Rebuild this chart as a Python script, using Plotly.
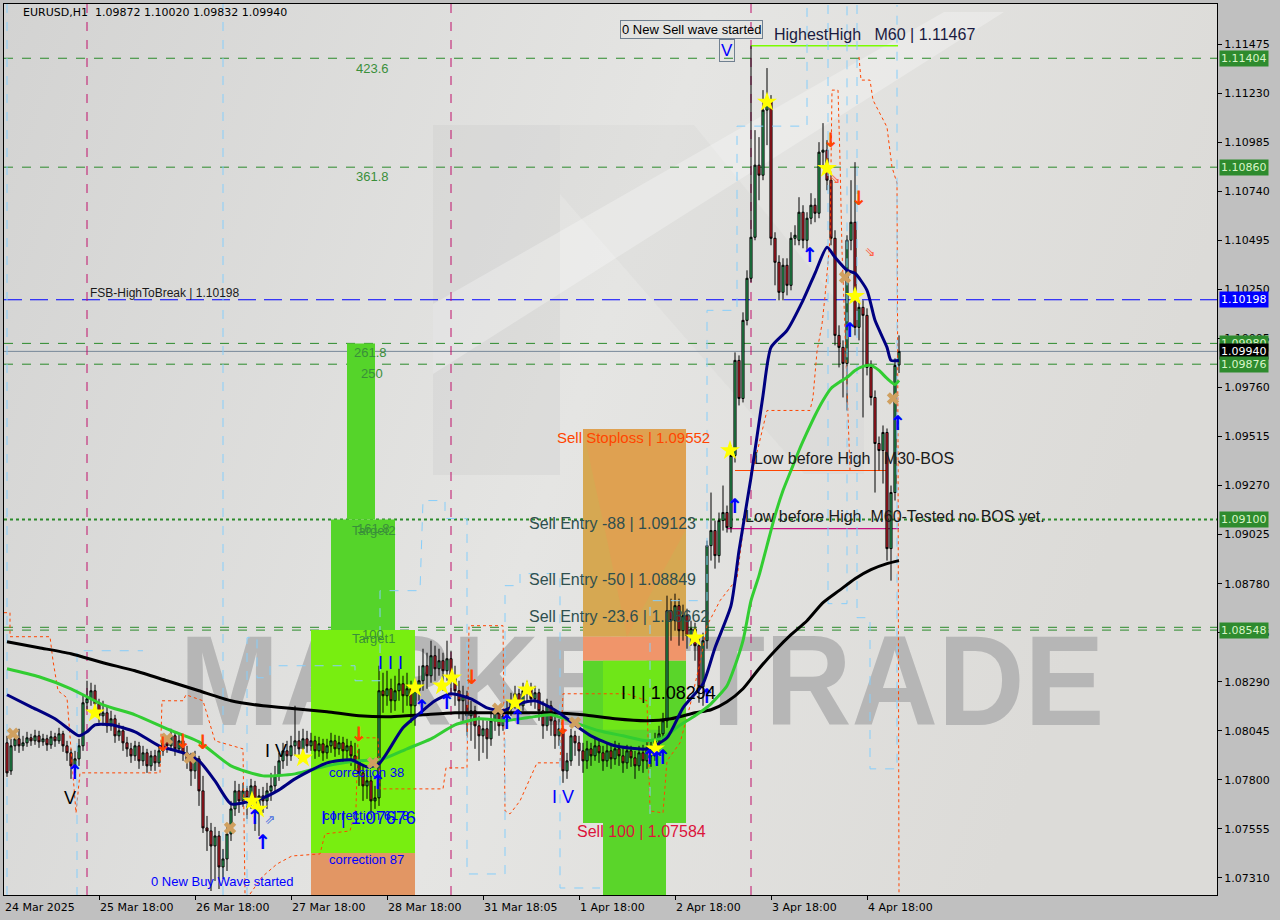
import base64
import plotly.graph_objects as go

# ---------------- DATA ----------------
opens = [1.07985,1.07845,1.07970,1.08005,1.07970,1.07985,1.08010,1.07995,1.08020,1.07990,
1.08005,1.07975,1.08015,1.07995,1.08030,1.07970,1.07935,1.07870,1.07905,1.07970,
1.08185,1.08205,1.08245,1.08180,1.08120,1.08135,1.08070,1.08105,1.08020,1.08045,
1.07985,1.07955,1.07920,1.07970,1.07895,1.07935,1.07870,1.07920,1.07885,1.07945,
1.07995,1.07970,1.08020,1.07955,1.07995,1.07935,1.07895,1.07845,1.07905,1.07745,
1.07560,1.07545,1.07470,1.07520,1.07365,1.07405,1.07530,1.07655,1.07745,1.07695,
1.07745,1.07710,1.07770,1.07670,1.07720,1.07695,1.07745,1.07770,1.07820,1.07895,
1.07945,1.07920,1.07970,1.07995,1.07955,1.08005,1.07970,1.07995,1.07945,1.07980,
1.07935,1.07970,1.07995,1.07955,1.07985,1.07945,1.07970,1.07920,1.07895,1.07835,
1.07770,1.07795,1.07695,1.07710,1.08245,1.08220,1.08255,1.08195,1.08245,1.08280,
1.08220,1.08255,1.08170,1.08245,1.08295,1.08370,1.08320,1.08420,1.08355,1.08395,
1.08345,1.08405,1.08320,1.08245,1.08195,1.08220,1.08120,1.08145,1.08070,1.08020,
1.08055,1.08005,1.08095,1.08135,1.08070,1.08120,1.08155,1.08195,1.08230,1.08170,
1.08245,1.08255,1.08205,1.08235,1.08145,1.08070,1.08170,1.08095,1.08020,1.08055,
1.07845,1.07895,1.08020,1.07985,1.07945,1.07895,1.07955,1.07920,1.07970,1.07935,
1.07895,1.07945,1.07905,1.07955,1.07920,1.07885,1.07945,1.07910,1.07870,1.07935,
1.07895,1.07955,1.07920,1.07995,1.08030,1.08095,1.08645,1.08595,1.08670,1.08545,
1.08620,1.08520,1.08555,1.08470,1.08265,1.08495,1.08970,1.09045,1.08920,1.09095,
1.09135,1.09060,1.09420,1.09895,1.09705,1.10095,1.10305,1.10510,1.10870,1.10820,
1.11145,1.11195,1.10505,1.10385,1.10235,1.10370,1.10270,1.10505,1.10495,1.10635,
1.10495,1.10605,1.10670,1.10630,1.10935,1.10945,1.10795,1.10505,1.10020,1.09960,
1.09880,1.10495,1.10585,1.10060,1.10160,1.10120,1.09860,1.09710,1.09480,1.09445,
1.09535,1.08955,1.09235,1.09872]
highs = [1.08020,1.08005,1.08045,1.08055,1.08020,1.08040,1.08030,1.08050,1.08045,1.08030,
1.08025,1.08045,1.08035,1.08060,1.08045,1.07995,1.07955,1.07945,1.08005,1.08220,
1.08295,1.08285,1.08275,1.08205,1.08195,1.08165,1.08145,1.08125,1.08085,1.08070,
1.08015,1.07985,1.07995,1.07990,1.07970,1.07955,1.07945,1.07950,1.07975,1.08030,
1.08020,1.08055,1.08035,1.08025,1.08015,1.07970,1.07935,1.07945,1.07920,1.07820,
1.07620,1.07585,1.07565,1.07545,1.07455,1.07565,1.07695,1.07795,1.07780,1.07785,
1.07770,1.07805,1.07795,1.07755,1.07765,1.07785,1.07835,1.07870,1.07935,1.07985,
1.07995,1.08020,1.08170,1.08045,1.08055,1.08045,1.08035,1.08020,1.08015,1.08005,
1.08005,1.08035,1.08025,1.08020,1.08015,1.08005,1.07995,1.07985,1.07955,1.07870,
1.07845,1.07820,1.07770,1.08370,1.08335,1.08345,1.08305,1.08320,1.08355,1.08320,
1.08335,1.08295,1.08285,1.08370,1.08455,1.08435,1.08495,1.08470,1.08455,1.08435,
1.08495,1.08445,1.08370,1.08295,1.08270,1.08245,1.08195,1.08170,1.08120,1.08105,
1.08095,1.08135,1.08170,1.08165,1.08155,1.08195,1.08235,1.08270,1.08255,1.08285,
1.08295,1.08285,1.08270,1.08255,1.08195,1.08205,1.08195,1.08145,1.08105,1.08070,
1.07935,1.08055,1.08045,1.08020,1.07985,1.07995,1.07985,1.08005,1.07995,1.07970,
1.07985,1.07975,1.07995,1.07985,1.07965,1.07975,1.07970,1.07945,1.07970,1.07975,
1.07995,1.07995,1.08035,1.08070,1.08135,1.08720,1.08705,1.08730,1.08705,1.08675,
1.08655,1.08595,1.08585,1.08505,1.08535,1.08995,1.09235,1.09095,1.09135,1.09270,
1.09170,1.09470,1.09935,1.09920,1.10135,1.10345,1.11467,1.11045,1.11010,1.11245,
1.11355,1.11220,1.10535,1.10420,1.10405,1.10405,1.10535,1.10570,1.10710,1.10670,
1.10635,1.10730,1.10705,1.10985,1.11080,1.10995,1.10820,1.10545,1.10070,1.09995,
1.10520,1.10795,1.10885,1.10195,1.10195,1.10155,1.09895,1.09745,1.09515,1.09570,
1.09555,1.09270,1.09905,1.10020]
lows = [1.07815,1.07825,1.07945,1.07935,1.07945,1.07965,1.07970,1.07975,1.07960,1.07970,
1.07945,1.07955,1.07965,1.07980,1.07940,1.07895,1.07805,1.07835,1.07870,1.07945,
1.08145,1.08170,1.08145,1.08085,1.08070,1.08035,1.08045,1.07985,1.07995,1.07945,
1.07915,1.07885,1.07895,1.07855,1.07870,1.07835,1.07845,1.07845,1.07865,1.07920,
1.07935,1.07945,1.07920,1.07935,1.07895,1.07855,1.07770,1.07805,1.07670,1.07535,
1.07445,1.07245,1.07295,1.07255,1.07305,1.07345,1.07495,1.07620,1.07635,1.07665,
1.07605,1.07655,1.07545,1.07520,1.07635,1.07655,1.07695,1.07735,1.07795,1.07855,
1.07870,1.07895,1.07920,1.07905,1.07920,1.07935,1.07945,1.07905,1.07915,1.07895,
1.07905,1.07935,1.07915,1.07925,1.07885,1.07905,1.07870,1.07845,1.07770,1.07695,
1.07705,1.07635,1.07655,1.07670,1.08135,1.08170,1.08135,1.08145,1.08195,1.08135,
1.08170,1.08085,1.08070,1.08195,1.08245,1.08255,1.08285,1.08295,1.08320,1.08245,
1.08295,1.08235,1.08170,1.08105,1.08095,1.08020,1.07995,1.07955,1.07895,1.07935,
1.07905,1.07970,1.08045,1.08020,1.08045,1.08085,1.08120,1.08155,1.08135,1.08145,
1.08195,1.08170,1.08155,1.08095,1.08005,1.08045,1.08020,1.07955,1.07970,1.07785,
1.07805,1.07870,1.07920,1.07870,1.07835,1.07855,1.07870,1.07895,1.07885,1.07845,
1.07865,1.07855,1.07875,1.07870,1.07835,1.07855,1.07865,1.07805,1.07845,1.07835,
1.07855,1.07865,1.07895,1.07955,1.07995,1.08060,1.08495,1.08545,1.08470,1.08495,
1.08455,1.08470,1.08395,1.08185,1.08170,1.08455,1.08895,1.08855,1.08885,1.09045,
1.09035,1.09035,1.09385,1.09670,1.09685,1.10070,1.10285,1.10495,1.10695,1.10795,
1.10970,1.10470,1.10270,1.10195,1.10195,1.10220,1.10245,1.10470,1.10470,1.10455,
1.10445,1.10575,1.10585,1.10605,1.10870,1.10745,1.10470,1.09970,1.09860,1.09710,
1.09645,1.10445,1.10020,1.09995,1.09610,1.09820,1.09670,1.09235,1.09345,1.09280,
1.08895,1.08795,1.09195,1.09832]
closes = [1.07835,1.07970,1.08005,1.07970,1.07985,1.08010,1.07995,1.08020,1.07990,1.08005,
1.07975,1.08015,1.07995,1.08030,1.07970,1.07935,1.07870,1.07905,1.07970,1.08185,
1.08205,1.08245,1.08180,1.08120,1.08135,1.08070,1.08105,1.08020,1.08045,1.07985,
1.07955,1.07920,1.07970,1.07895,1.07935,1.07870,1.07920,1.07885,1.07945,1.07995,
1.07970,1.08020,1.07955,1.07995,1.07935,1.07895,1.07845,1.07905,1.07745,1.07560,
1.07545,1.07470,1.07520,1.07365,1.07405,1.07530,1.07655,1.07745,1.07695,1.07745,
1.07710,1.07770,1.07670,1.07720,1.07695,1.07745,1.07770,1.07820,1.07895,1.07945,
1.07920,1.07970,1.07995,1.07955,1.08005,1.07970,1.07995,1.07945,1.07980,1.07935,
1.07970,1.07995,1.07955,1.07985,1.07945,1.07970,1.07920,1.07895,1.07835,1.07770,
1.07795,1.07695,1.07710,1.08245,1.08220,1.08255,1.08195,1.08245,1.08280,1.08220,
1.08255,1.08170,1.08245,1.08295,1.08370,1.08320,1.08420,1.08355,1.08395,1.08345,
1.08405,1.08320,1.08245,1.08195,1.08220,1.08120,1.08145,1.08070,1.08020,1.08055,
1.08005,1.08095,1.08135,1.08070,1.08120,1.08155,1.08195,1.08230,1.08170,1.08245,
1.08255,1.08205,1.08235,1.08145,1.08070,1.08170,1.08095,1.08020,1.08055,1.07845,
1.07895,1.08020,1.07985,1.07945,1.07895,1.07955,1.07920,1.07970,1.07935,1.07895,
1.07945,1.07905,1.07955,1.07920,1.07885,1.07945,1.07910,1.07870,1.07935,1.07895,
1.07955,1.07920,1.07995,1.08030,1.08095,1.08645,1.08595,1.08670,1.08545,1.08620,
1.08520,1.08555,1.08470,1.08265,1.08495,1.08970,1.09045,1.08920,1.09095,1.09135,
1.09060,1.09420,1.09895,1.09705,1.10095,1.10305,1.10510,1.10870,1.10820,1.11145,
1.11195,1.10505,1.10385,1.10235,1.10370,1.10270,1.10505,1.10520,1.10635,1.10495,
1.10605,1.10670,1.10630,1.10935,1.10945,1.10795,1.10505,1.10020,1.09960,1.09880,
1.10495,1.10585,1.10060,1.10160,1.10120,1.09860,1.09710,1.09480,1.09445,1.09535,
1.08955,1.09235,1.09870,1.09940]
bar_index = list(range(len(closes)))

x_tick_bars = [23, 47, 71, 95, 119, 143, 167, 191, 215]
x_tick_text = ["25 Mar 18:00", "26 Mar 18:00", "27 Mar 18:00", "28 Mar 18:00", "31 Mar 18:05",
               "1 Apr 18:00", "2 Apr 18:00", "3 Apr 18:00", "4 Apr 18:00"]
first_date_label = "24 Mar 2025"
y_tick_vals = [1.07310, 1.07555, 1.07800, 1.08045, 1.08290, 1.08535, 1.08780, 1.09025, 1.09270,
               1.09515, 1.09760, 1.10005, 1.10250, 1.10495, 1.10740, 1.10985, 1.11230, 1.11475]

# moving averages
black_ma_bars = [0,8,16,24,32,40,48,56,64,72,80,88,96,104,112,120,128,136,144,152,160,166,172,176,180,184,188,192,196,200,204,208,212,216,220,223]
black_ma_vals = [1.08490,1.08460,1.08430,1.08385,1.08345,1.08295,1.08245,1.08195,1.08170,1.08155,1.08140,1.08120,1.08115,1.08125,1.08135,1.08135,1.08135,1.08135,1.08125,1.08105,1.08095,1.08105,1.08135,1.08150,1.08190,1.08255,1.08355,1.08445,1.08525,1.08595,1.08685,1.08745,1.08805,1.08850,1.08880,1.08895]
green_ma_bars = [0,8,16,24,32,40,48,56,64,72,80,88,94,100,106,112,118,124,130,136,142,148,154,160,164,168,172,176,180,182,184,186,188,190,192,194,196,198,200,202,204,206,208,210,212,214,216,218,220,222,223]
green_ma_vals = [1.08355,1.08315,1.08255,1.08175,1.08125,1.08055,1.07990,1.07870,1.07820,1.07830,1.07870,1.07895,1.07905,1.07955,1.08005,1.08075,1.08105,1.08095,1.08110,1.08125,1.08085,1.08045,1.08020,1.07995,1.08010,1.08070,1.08120,1.08180,1.08270,1.08370,1.08495,1.08695,1.08820,1.08970,1.09120,1.09245,1.09345,1.09445,1.09535,1.09620,1.09695,1.09755,1.09785,1.09810,1.09845,1.09865,1.09870,1.09845,1.09805,1.09775,1.09795]
navy_ma_bars = [0,6,12,16,18,20,22,26,32,38,44,48,52,56,60,64,68,72,80,86,90,93,95,99,103,107,111,116,120,124,128,132,136,138,143,146,152,160,165,169,174,177,181,183,186,189,191,195,199,202,205,207,210,212,215,217,220,221,223]
navy_ma_vals = [1.08225,1.08165,1.08105,1.08045,1.08020,1.08040,1.08075,1.08075,1.08040,1.07970,1.07935,1.07895,1.07795,1.07680,1.07690,1.07710,1.07750,1.07805,1.07885,1.07900,1.07865,1.07880,1.07935,1.08060,1.08130,1.08195,1.08230,1.08205,1.08160,1.08145,1.08180,1.08195,1.08160,1.08135,1.08060,1.08020,1.07970,1.07955,1.08010,1.08160,1.08280,1.08460,1.08670,1.08945,1.09310,1.09720,1.09960,1.10045,1.10195,1.10330,1.10460,1.10410,1.10345,1.10330,1.10245,1.10095,1.09960,1.09895,1.09895]

# orange dotted channel lines
orange1_bars = [-0.75,0.75,0.75,10.75,11.5,12.75,15,16.25,17.25,18.25,38.25,38.75,44,44.75,49,52,59,59.5]
orange1_vals = [1.08635,1.08635,1.08515,1.08515,1.08395,1.08245,1.08210,1.07895,1.07635,1.07835,1.07835,1.08195,1.08195,1.08225,1.08195,1.07995,1.07955,1.07230]
orange2_bars = [60.75,63.75,67.5,71.25,78.25,79.5,85.75,87.25,87.75,92.75,93.25,109,109.75,115,115.5,124,124.5,125.75,128.25,130.75,132.5,138.25,139,155,160,160.75,164,165,168.25,170.75,173.25,175,178.25,182.5,184,186.25,190,200.75,201.5,202.5,203.75,204.5,205.75,206.25,207.75,208.25,208.75,209.5,210.25,210.75]
orange2_vals = [1.07230,1.07315,1.07380,1.07420,1.07430,1.07530,1.07545,1.07660,1.08010,1.08010,1.07755,1.07755,1.07860,1.07860,1.08570,1.08570,1.07645,1.07630,1.07695,1.07810,1.07885,1.07885,1.08230,1.08230,1.08195,1.07645,1.07635,1.07895,1.07985,1.08170,1.08385,1.08570,1.08695,1.08805,1.09045,1.09330,1.09645,1.09645,1.09710,1.09940,1.10075,1.10215,1.10495,1.11245,1.11245,1.10895,1.10445,1.10045,1.09595,1.09345]
orange3_bars = [213,213.5,215.75,216.5,220,221.25,222.5,222.75,223]
orange3_vals = [1.11410,1.11295,1.11295,1.11195,1.11060,1.10860,1.10780,1.09495,1.07220]

# light blue dashed step lines
blue1_bars = [17.5,17.5,34]
blue1_vals = [1.0722,1.08445,1.08445]
blue2_bars = [60,60,62.5,62.5,65.75,65.75,87,87,93.25,93.25,103.25,104,108.25,109.5,109.5,115,115,124.5,124.5,128.25,128.25,138.25,138.25,148.25]
blue2_vals = [1.0722,1.08510,1.08510,1.08310,1.08310,1.08370,1.08370,1.08295,1.08295,1.08745,1.08745,1.09195,1.09195,1.09195,1.09105,1.09105,1.07330,1.07330,1.08770,1.08770,1.08830,1.08830,1.07260,1.07260]
blue3_bars = [160.75,160.75,175,175,182.5,182.5,200,200]
blue3_vals = [1.07630,1.08695,1.08695,1.10145,1.10145,1.11065,1.11065,1.1167]
blue4_bars = [205.25,205.25,210,210]
blue4_vals = [1.1167,1.08680,1.08680,1.1167]
blue5_bars = [212.5,212.5,215.75,215.75,222.5,222.5]
blue5_vals = [1.1167,1.08610,1.08610,1.07855,1.07855,1.1167]
blue_full_bars = [0, 54]

# signal markers
star_bars = [22,61.25,62.75,74,102,108.75,111.25,127,130,162,172,180.75,190,205,212]
star_vals = [1.08135,1.07695,1.07655,1.07910,1.08260,1.08270,1.08310,1.08185,1.08250,1.07955,1.08510,1.09445,1.11185,1.10855,1.10215]
cross_bars = [1.5,40,45.75,55.75,91.5,122.75,142,209.5,221.5]
cross_vals = [1.08030,1.08005,1.07910,1.07560,1.07885,1.08155,1.08085,1.10310,1.09705]
up_bars = [17,62,64,92.75,103.75,110,125,127.75,160.75,162.5,164,175,182,200.75,210.75,222.75]
up_vals = [1.07830,1.07605,1.07480,1.07780,1.08155,1.08180,1.08080,1.08105,1.07905,1.07895,1.07905,1.08210,1.09160,1.10410,1.10035,1.09570]
down_bars = [39,44,49,88,116.25,139,206,213]
down_vals = [1.07970,1.07985,1.07980,1.08020,1.08305,1.08055,1.10985,1.10695]

# levels
fib_top = 1.09980
target2 = 1.09100
target1 = 1.08548
corr87 = 1.07435
sell_stoploss = 1.09552
sell_entry_band = 1.08515
sell_zone_top = 1.08395
sell_100 = 1.07584
highest_high = 1.11467
low_before_high_m30 = 1.09345
low_before_high_m60 = 1.09055
fsb_high = 1.10198
current_price = 1.09940
green_levels = [1.11404, 1.10860, 1.09980, 1.09876]
price_tags = [(1.11404, "#2e8b2e", "#d8f5c8"), (1.10860, "#2e8b2e", "#d8f5c8"),
              (1.10198, "#0000ff", "#ffffff"), (1.09980, "#2e8b2e", "#d8f5c8"),
              (1.09940, "#000000", "#ffffff"), (1.09876, "#2e8b2e", "#d8f5c8"),
              (1.09100, "#2e8b2e", "#d8f5c8"), (1.08548, "#2e8b2e", "#d8f5c8")]
separator_bars = [20, 111, 186]

# ---------------- FIGURE ----------------
X0, X1 = -0.75, 302.5
Y0, Y1 = 1.07225, 1.11675
fig = go.Figure()

def rect(xa, xb, ya, yb, color, opacity=1.0):
    fig.add_shape(type="rect", xref="x", yref="y", x0=xa, x1=xb, y0=ya, y1=yb,
                  fillcolor=color, opacity=opacity, line=dict(width=0), layer="below")

# zones left
rect(76, 102, target1, corr87, "#78ee10")
rect(85, 92, fib_top, target2, "#55d42a")
rect(81, 97, target2, target1, "#55d42a")
rect(76, 102, corr87, 1.0715, "#e29664")
# zones middle
rect(144, 169.75, sell_stoploss, sell_entry_band, "#d6a852")
fig.add_shape(type="path", xref="x", yref="y", layer="below", line=dict(width=0),
              fillcolor="rgba(240,150,80,0.35)",
              path=f"M 144 {sell_stoploss} L 169.75 {sell_stoploss} L 169.75 1.0905 L 155 {sell_entry_band} L 150 1.0900 Z")
rect(144, 169.75, sell_entry_band, sell_zone_top, "#f0956a")
rect(144, 169.75, sell_zone_top, sell_100, "#5ad52a")
rect(149, 164.75, sell_zone_top, 1.0805, "#74ea14", 0.8)
rect(149, 164.75, sell_100, 1.0715, "#5ad52a")

def hline(y, color, dash, width=1, xa=0, xb=1):
    fig.add_shape(type="line", xref="paper", yref="y", x0=xa, x1=xb, y0=y, y1=y,
                  line=dict(color=color, width=width, dash=dash), layer="below")

for lv in green_levels:
    hline(lv, "#2b8a2b", "dash")
hline(target2, "#2b8a2b", "dot", 2)
hline(target1, "#2b8a2b", "dash")
hline(target1 + 0.00014, "#2b8a2b", "dash")
hline(fsb_high, "#0000ff", "18px,8px", 1.2)
hline(current_price, "#778899", "solid")
for sb in separator_bars:
    fig.add_shape(type="line", xref="x", yref="paper", x0=sb, x1=sb, y0=0, y1=1,
                  line=dict(color="#c0106a", width=1, dash="dash"), layer="below")
for bb in blue_full_bars:
    fig.add_shape(type="line", xref="x", yref="paper", x0=bb, x1=bb, y0=0, y1=1,
                  line=dict(color="#87cefa", width=1, dash="dash"), layer="below")
fig.add_shape(type="line", xref="x", yref="y", x0=186, x1=222.75, y0=highest_high, y1=highest_high,
              line=dict(color="#7cfc00", width=1.5), layer="below")
fig.add_shape(type="line", xref="x", yref="y", x0=182, x1=220, y0=low_before_high_m30, y1=low_before_high_m30,
              line=dict(color="#ff4500", width=1.2), layer="below")
fig.add_shape(type="line", xref="x", yref="y", x0=180, x1=223, y0=low_before_high_m60, y1=low_before_high_m60,
              line=dict(color="#c71585", width=1.2), layer="below")

# candles
fig.add_trace(go.Candlestick(x=bar_index, open=opens, high=highs, low=lows, close=closes,
                             increasing=dict(line=dict(color="black", width=1), fillcolor="#2fb865"),
                             decreasing=dict(line=dict(color="black", width=1), fillcolor="#e0202e"),
                             whiskerwidth=0, hoverinfo="skip", showlegend=False))

def dline(xs, ys, color, dash, width=1):
    fig.add_trace(go.Scatter(x=xs, y=ys, mode="lines", line=dict(color=color, width=width, dash=dash),
                             hoverinfo="skip", showlegend=False))

dline(orange1_bars, orange1_vals, "#ff4500", "dot")
dline(orange2_bars, orange2_vals, "#ff4500", "dot")
dline(orange3_bars, orange3_vals, "#ff4500", "dot")
for bx, by in [(blue1_bars, blue1_vals), (blue2_bars, blue2_vals), (blue3_bars, blue3_vals),
               (blue4_bars, blue4_vals), (blue5_bars, blue5_vals)]:
    dline(bx, by, "#87cefa", "dash")

for xs, ys, col in [(black_ma_bars, black_ma_vals, "#000000"), (green_ma_bars, green_ma_vals, "#32cd32"),
                    (navy_ma_bars, navy_ma_vals, "#000080")]:
    fig.add_trace(go.Scatter(x=xs, y=ys, mode="lines",
                             line=dict(color=col, width=3, shape="spline", smoothing=0.6),
                             hoverinfo="skip", showlegend=False))

fig.add_trace(go.Scatter(x=cross_bars, y=cross_vals, mode="markers",
                         marker=dict(symbol="x", size=11, color="#d0a060", line=dict(width=0)),
                         hoverinfo="skip", showlegend=False))
fig.add_trace(go.Scatter(x=star_bars, y=star_vals, mode="markers",
                         marker=dict(symbol="star", size=15, color="#ffff00", line=dict(width=0)),
                         hoverinfo="skip", showlegend=False))
fig.add_trace(go.Scatter(x=up_bars, y=up_vals, mode="text", text=["↑"] * len(up_bars),
                         textfont=dict(family="DejaVu Sans", size=20, color="#0000ff", weight="bold"),
                         hoverinfo="skip", showlegend=False))
fig.add_trace(go.Scatter(x=down_bars, y=down_vals, mode="text", text=["↓"] * len(down_bars),
                         textfont=dict(family="DejaVu Sans", size=20, color="#ff4500", weight="bold"),
                         hoverinfo="skip", showlegend=False))
fig.add_trace(go.Scatter(x=[65.75, 207, 215.75], y=[1.07595, 1.10795, 1.10435], mode="text",
                         text=["⇗", "⇘", "⇘"],
                         textfont=dict(family="DejaVu Sans", size=13, color=["#4169e1", "#ff6347", "#ff6347"]),
                         hoverinfo="skip", showlegend=False))

# ---------------- TEXT ----------------
def txt(x, y, s, color, size, anchor="center", family="Liberation Sans", **kw):
    fig.add_annotation(x=x, y=y, xref="x", yref="y", text=s, showarrow=False, xanchor=anchor,
                       yanchor="middle", font=dict(family=family, size=size, color=color), **kw)

NB = "\u00a0"
fibc = "#3a8f3a"
txt(91.25, 1.11355, "423.6", fibc, 13)
txt(91.25, 1.10815, "361.8", fibc, 13)
txt(90.75, 1.09935, "261.8", fibc, 13)
txt(91.25, 1.09830, "250", fibc, 13)
txt(91.5, 1.09045, "Target2", fibc, 13)
txt(91.5, 1.09055, "161.8", fibc, 13)
txt(91.5, 1.08505, "Target1", fibc, 13)
txt(91.5, 1.08525, "100", fibc, 13)
txt(20.25, 1.10230, "FSB-HighToBreak | 1.10198", "#1a1a1a", 12, anchor="left")
txt(137, 1.09510, "Sell Stoploss | 1.09552", "#ff4500", 15, anchor="left")
txt(130, 1.09080, "Sell Entry -88 | 1.09123", "#2f4f4f", 16, anchor="left")
txt(130, 1.08800, "Sell Entry -50 | 1.08849", "#2f4f4f", 16, anchor="left")
txt(130, 1.08615, "Sell Entry -23.6 | 1.08662", "#2f4f4f", 16, anchor="left")
txt(165.25, 1.08235, "I I | 1.08294", "#000000", 18)
txt(142, 1.07540, "Sell 100 | 1.07584", "#dc143c", 16, anchor="left")
txt(139, 1.07715, "I V", "#0000ff", 18)
txt(95.75, 1.08385, "I I I", "#0000ff", 18)
txt(89.75, 1.07835, "correction 38", "#0000ff", 13)
txt(89.75, 1.07620, "correction 61.8", "#0000ff", 13)
txt(90.25, 1.07610, "I I | 1.07676", "#0000ff", 18)
txt(89.75, 1.07400, "correction 87", "#0000ff", 13)
txt(53.75, 1.07290, "0 New Buy Wave started", "#0000ff", 13)
txt(15.75, 1.07710, "V", "#000000", 18)
txt(67.25, 1.07945, "I V", "#000000", 18)
txt(171, 1.11550, "0 New Sell wave started", "#000000", 13, bordercolor="#708090", borderwidth=1, borderpad=1)
txt(180.1, 1.11442, "V", "#0000ff", 17, bordercolor="#708090", borderwidth=1, borderpad=1)
txt(216.75, 1.11525, f"HighestHigh{NB*3}M60 | 1.11467", "#1a1a40", 16)
txt(211.75, 1.09405, f"Low before High{NB*3}M30-BOS", "#1a1a1a", 16)
txt(222, 1.09115, f"Low before High{NB*2}M60-Tested no BOS yet.", "#1a1a1a", 16)

fig.add_annotation(x=0.014, y=0.99, xref="paper", yref="paper", text="EURUSD,H1" + NB * 2 + "1.09872 1.10020 1.09832 1.09940",
                   showarrow=False, xanchor="left", yanchor="middle",
                   font=dict(family="DejaVu Sans", size=11, color="#000000"))

# x axis labels (left aligned like the terminal)
fig.add_annotation(x=0, y=0, xref="paper", yref="paper", text=first_date_label, showarrow=False,
                   xanchor="left", yanchor="top", yshift=-4, xshift=-1,
                   font=dict(family="DejaVu Sans", size=11, color="#000000"))
for tb, tt in zip(x_tick_bars, x_tick_text):
    fig.add_annotation(x=tb, y=0, xref="x", yref="paper", text=tt, showarrow=False,
                       xanchor="left", yanchor="top", yshift=-4, xshift=-1,
                       font=dict(family="DejaVu Sans", size=11, color="#000000"))

for val, bg, fg in price_tags:
    fig.add_annotation(x=1, y=val, xref="paper", yref="y", text=f"{val:.5f}", showarrow=False,
                       xanchor="left", yanchor="middle", xshift=2, bgcolor=bg, borderpad=1,
                       font=dict(family="DejaVu Sans", size=11, color=fg))

# background gradient + watermark (image below everything)
svg = (
    "<svg xmlns='http://www.w3.org/2000/svg' width='1213' height='891' viewBox='0 0 1213 891' preserveAspectRatio='none'>"
    "<defs><linearGradient id='g' x1='0' y1='0' x2='1' y2='0.25'>"
    "<stop offset='0' stop-color='#d3d3d2'/><stop offset='0.55' stop-color='#e5e5e3'/>"
    "<stop offset='1' stop-color='#dcdbd8'/></linearGradient></defs>"
    "<rect width='1213' height='891' fill='url(#g)'/>"
    "<rect x='429' y='121' width='127' height='350' fill='#bdbdbd' fill-opacity='0.22'/>"
    "<polygon points='556,121 690,121 860,330 860,470 800,470 556,190' fill='#bdbdbd' fill-opacity='0.12'/>"
    "<polygon points='429,300 940,8 1000,8 429,370' fill='#ffffff' fill-opacity='0.28'/>"
    "<text x='638' y='721' font-family='Liberation Sans, Arial, sans-serif' font-weight='bold' font-size='128' "
    "fill='#b6b6b6' text-anchor='middle' textLength='925' lengthAdjust='spacingAndGlyphs'>MARKETTRADE</text>"
    "</svg>")
src = "data:image/svg+xml;base64," + base64.b64encode(svg.encode("utf-8")).decode("ascii")
fig.add_layout_image(dict(source=src, xref="paper", yref="paper", x=0, y=1, sizex=1, sizey=1,
                          xanchor="left", yanchor="top", sizing="stretch", layer="below"))

fig.update_layout(
    width=1280, height=920, margin=dict(l=4, r=63, t=4, b=25),
    paper_bgcolor="#c0c0c0", plot_bgcolor="#dcdcdc", showlegend=False, hovermode=False,
    boxgap=0.25,
    xaxis=dict(range=[X0, X1], showgrid=False, zeroline=False, showline=True, linecolor="black",
               linewidth=1, mirror=True, ticks="outside", ticklen=4, tickcolor="black",
               tickvals=x_tick_bars, showticklabels=False, rangeslider=dict(visible=False), fixedrange=True),
    yaxis=dict(range=[Y0, Y1], side="right", showgrid=False, zeroline=False, showline=True,
               linecolor="black", linewidth=1, mirror=True, ticks="outside", ticklen=4, tickcolor="black",
               tickvals=y_tick_vals, ticktext=[f"{v:.5f}" for v in y_tick_vals],
               tickfont=dict(family="DejaVu Sans", size=11, color="#000000"), fixedrange=True),
)

fig.write_html("out.html", config={"displayModeBar": False},
               post_script="document.body.style.margin='0px';document.body.style.overflow='hidden';")
